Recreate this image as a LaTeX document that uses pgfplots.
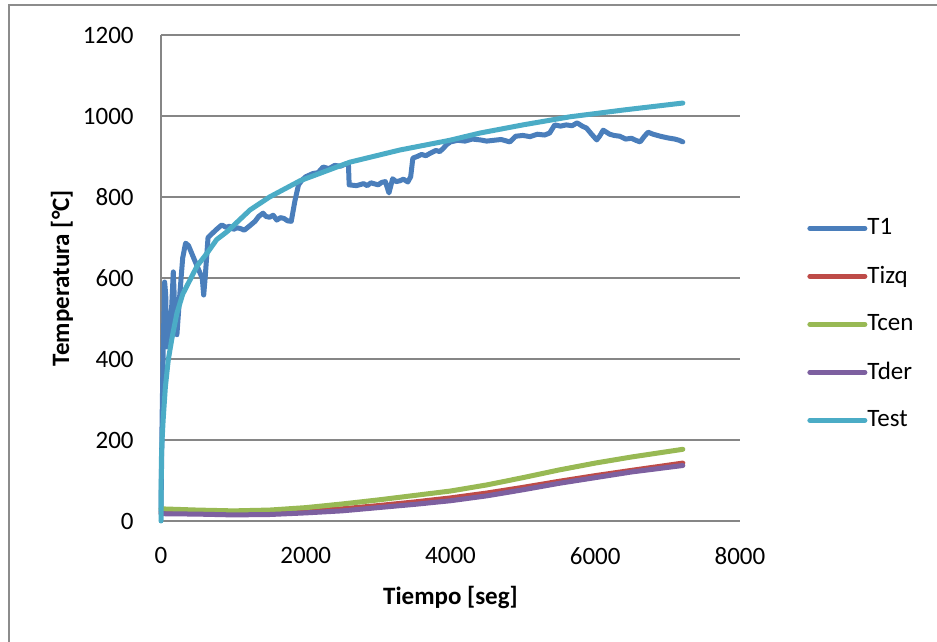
\documentclass[border=0pt]{standalone}
\usepackage{pgfplots}
\pgfplotsset{compat=1.18}
\usepackage{fontspec}
\setmainfont{Carlito}
\definecolor{cT1}{HTML}{4A7EBB}
\definecolor{cTizq}{HTML}{BE4B48}
\definecolor{cTcen}{HTML}{98B954}
\definecolor{cTder}{HTML}{7D60A0}
\definecolor{cTest}{HTML}{4BACC6}
\definecolor{cgrid}{HTML}{868686}
\definecolor{cborder}{HTML}{8C8C8C}
\begin{document}
\begin{tikzpicture}
\useasboundingbox (0,0) rectangle (468.5pt,321pt);
\draw[cborder, line width=1pt] (4.25pt,-20pt) rectangle (490pt,318.5pt);
\begin{axis}[
  at={(80.5pt,60.5pt)}, anchor=south west,
  scale only axis, width=289.5pt, height=243pt,
  xmin=0, xmax=8000, ymin=0, ymax=1200,
  axis x line=bottom, axis y line=left,
  axis line style={cgrid, line width=1pt, -},
  xtick={0,2000,4000,6000,8000}, ytick={0,200,400,600,800,1000,1200},
  major tick length=0pt,
  ymajorgrids, grid style={cgrid, line width=1pt},
  /pgf/number format/assume math mode=true,
  /pgf/number format/1000 sep={},
  tick label style={font=\fontsize{12.5}{15}\selectfont, inner sep=0pt},
  yticklabel style={anchor=east, xshift=-13.5pt},
  xticklabel style={anchor=north, yshift=-13pt},
  xlabel={Tiempo [seg]}, ylabel={Temperatura [°C]},
  label style={font=\fontsize{12.5}{15}\selectfont\bfseries},
  xlabel style={at={(axis description cs:0.5,-0.1584)}, anchor=center},
  ylabel style={at={(axis description cs:-0.171,0.5)}, anchor=center, rotate=0},
  clip=false,
  every axis plot/.append style={line width=2.5pt, line join=round, line cap=round},
  legend cell align=left,
  legend style={draw=none, fill=none, at={(1.1157,0.6523)}, anchor=north west,
    inner sep=0pt, font=\fontsize{12.5}{15}\selectfont,
    nodes={inner sep=0pt, minimum height=24pt}, row sep=0pt, column sep=0pt},
  legend image code/.code={\draw[#1, line width=2.5pt, line cap=round] (0pt,0pt) -- (27.5pt,0pt);},
]
\addplot[cT1] coordinates {
(0,25)(15,250)(30,420)(50,590)(65,560)(80,430)(110,450)(140,500)(170,615)(190,520)(220,460)(260,560)(300,650)(340,686)(380,680)(450,650)(540,612)(570,600)(590,558)(610,600)(650,700)(720,712)(780,722)(840,731)(900,725)(950,728)(1000,720)(1050,724)(1100,722)(1150,718)(1200,725)(1300,740)(1350,752)(1410,760)(1450,752)(1500,750)(1550,755)(1600,743)(1650,749)(1700,747)(1750,741)(1800,740)(1850,790)(1900,830)(1950,842)(2000,850)(2100,858)(2170,860)(2240,874)(2320,870)(2400,878)(2480,876)(2570,883)(2590,880)(2600,830)(2700,828)(2800,833)(2850,828)(2900,835)(3000,830)(3050,836)(3100,838)(3150,810)(3200,845)(3250,838)(3300,840)(3350,844)(3410,837)(3450,850)(3480,896)(3540,900)(3600,905)(3660,902)(3720,908)(3800,915)(3850,912)(3900,920)(3950,930)(4000,936)(4100,940)(4200,938)(4300,943)(4410,941)(4500,938)(4600,940)(4700,942)(4820,936)(4900,950)(5000,952)(5100,949)(5200,955)(5300,953)(5370,958)(5440,978)(5520,975)(5600,978)(5680,976)(5750,983)(5820,975)(5880,970)(5950,955)(6020,941)(6060,950)(6110,965)(6200,955)(6260,952)(6340,950)(6420,943)(6500,945)(6560,940)(6620,936)(6680,950)(6730,960)(6800,955)(6900,950)(7000,946)(7100,943)(7160,940)(7210,936)
};
\addlegendentry{T1}
\addplot[cTizq] coordinates {
(0,22)(500,20)(1000,19)(1500,20)(2000,24)(2500,30)(3000,38)(3500,47)(4000,57)(4500,69)(5000,83)(5500,98)(6000,112)(6500,125)(7210,143)
};
\addlegendentry{Tizq}
\addplot[cTcen] coordinates {
(0,30)(500,27)(1000,25)(1500,27)(2000,33)(2500,42)(3000,52)(3500,63)(4000,74)(4500,89)(5000,107)(5500,126)(6000,143)(6500,158)(7210,177)
};
\addlegendentry{Tcen}
\addplot[cTder] coordinates {
(0,18)(500,17)(1000,15)(1500,16)(2000,20)(2500,25)(3000,33)(3500,41)(4000,50)(4500,62)(5000,77)(5500,93)(6000,107)(6500,121)(7210,137)
};
\addlegendentry{Tder}
\addplot[cTest] coordinates {
(0,0)(5,150)(15,200)(30,250)(60,330)(100,397)(150,450)(220,513)(300,560)(400,595)(500,630)(635,661)(770,695)(910,714)(1230,768)(1500,800)(1920,840)(2610,886)(3300,916)(3990,940)(4410,958)(5000,978)(5650,998)(6400,1015)(7210,1032)
};
\addlegendentry{Test}
\end{axis}
\end{tikzpicture}
\end{document}
